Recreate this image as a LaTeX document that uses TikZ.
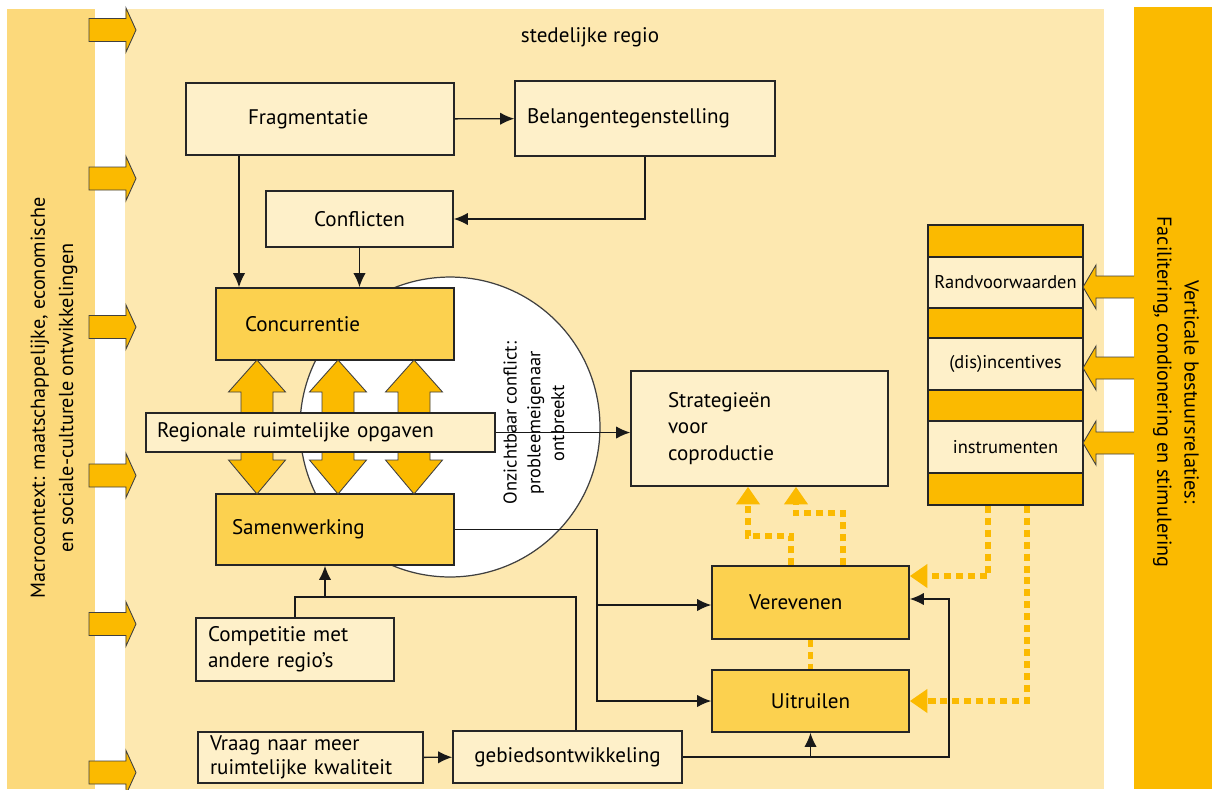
\documentclass[tikz,border=0pt]{standalone}
\usepackage{fontspec}
\setmainfont{PT Sans}
\usetikzlibrary{arrows.meta,calc,positioning}

\definecolor{bandleft}{HTML}{FCD97B}
\definecolor{region}{HTML}{FDE8B0}
\definecolor{boxlight}{HTML}{FEF0C9}
\definecolor{boxdark}{HTML}{FCD14F}
\definecolor{orange}{HTML}{FBBA00}

\tikzset{
  box/.style={draw=black!85, line width=0.9pt, inner ysep=0pt, font=\fontsize{12}{15}\selectfont},
  lightbox/.style={box, fill=boxlight},
  darkbox/.style={box, fill=boxdark},
  line/.style={draw=black!90, line width=0.8pt},
  dotline/.style={draw=orange, line width=3.2pt, dash pattern=on 4pt off 2.8pt},
  dotarrow/.style={dotline, -{Triangle[length=10pt,width=13pt]}},
  blockarrow/.style={fill=orange, draw=black!75, line width=0.5pt},
}

\begin{document}
\begin{tikzpicture}[x=0.02cm, y=-0.02cm, >={Latex[length=8pt,width=7pt]}]
\useasboundingbox (0,0) rectangle (1212,789);
\fill[white] (0,0) rectangle (1212,789);

% bands
\fill[bandleft] (7,9) rectangle (95,789);
\fill[region] (125,9) rectangle (1104,789);
\fill[orange] (1134,7) rectangle (1212,789);

\node (macro) at (54,398) [rotate=90, align=center, font=\fontsize{11.5}{16}\selectfont] {Macrocontext: maatschappelijke, economische\\en sociale-culturele ontwikkelingen};
\node (vert) at (1176,392) [rotate=-90, align=center, font=\fontsize{11.5}{15.5}\selectfont] {Verticale bestuursrelaties:\\Facilitering, condionering en stimulering};
\node (regio) at (590,37) [font=\fontsize{12}{15}\selectfont] {stedelijke regio};

% macro context arrows
\foreach \y in {30,178.5,327,475.5,624,772.5}
  \filldraw[blockarrow] (89,\y-11.5) -- (126,\y-11.5) -- (126,\y-22) -- (136,\y) -- (126,\y+22) -- (126,\y+11.5) -- (89,\y+11.5) -- cycle;

% invisible conflict
\node (blind) at (450,427) [circle, draw=black!75, line width=0.7pt, fill=white, minimum size=6cm, inner sep=0pt] {};
\node (blindtxt) at (534,423) [rotate=90, align=center, font=\fontsize{10.5}{13.5}\selectfont] {Onzichtbaar conflict:\\probleemeigenaar\\ontbreekt};

% boxes
\node (frag) at (320,119) [lightbox, minimum width=5.36cm, minimum height=1.44cm, inner xsep=1.24cm, text width=2.88cm, align=left] {Fragmentatie};
\node (belang) at (645,118.5) [lightbox, minimum width=5.2cm, minimum height=1.5cm, inner xsep=0.24cm, text width=4.72cm, align=left] {Belangentegenstelling};
\node (confl) at (359.5,219) [lightbox, minimum width=3.74cm, minimum height=1.12cm] {Conflicten};
\node (conc) at (335,324) [darkbox, minimum width=4.76cm, minimum height=1.44cm, inner xsep=0.58cm, text width=3.6cm, align=left] {Concurrentie};
\node (samen) at (335,529.5) [darkbox, minimum width=4.76cm, minimum height=1.42cm, inner xsep=0.32cm, text width=4.12cm, align=left] {Samenwerking};

% two-way arrows
\foreach \cx in {257,338,414}
  \filldraw[blockarrow] (\cx,360) -- (\cx+28.5,392) -- (\cx+16,392) -- (\cx+16,460) -- (\cx+28.5,460) -- (\cx,494) -- (\cx-28.5,460) -- (\cx-16,460) -- (\cx-16,392) -- (\cx-28.5,392) -- cycle;

\node (reg) at (320.5,432.5) [lightbox, minimum width=6.98cm, minimum height=0.78cm, inner xsep=0.22cm, text width=6.54cm, align=left] {Regionale ruimtelijke opgaven};
\node (strat) at (759.5,428.5) [lightbox, minimum width=5.14cm, minimum height=2.3cm, inner xsep=0.74cm, text width=3.66cm, align=left] {Strategieën\\voor\\coproductie};
\node (verev) at (810.5,602.5) [darkbox, minimum width=3.94cm, minimum height=1.46cm, inner xsep=0.74cm, text width=2.46cm, align=left] {Verevenen};
\node (uitr) at (810.5,701) [darkbox, minimum width=3.94cm, minimum height=1.24cm] {Uitruilen};
\node (comp) at (295,649.5) [lightbox, minimum width=3.96cm, minimum height=1.26cm, inner xsep=0.24cm, text width=3.48cm, align=left] {Competitie met\\andere regio’s};
\node (vraag) at (310.5,757.5) [lightbox, minimum width=4.5cm, minimum height=1.02cm, inner xsep=0.24cm, text width=4.02cm, align=left, font=\fontsize{12}{13.5}\selectfont] {Vraag naar meer\\ruimtelijke kwaliteit};
\node (gebied) at (567.5,757) [lightbox, minimum width=4.58cm, minimum height=1.04cm] {gebiedsontwikkeling};

% steering instruments
\node (stack) at (1005.5,365) [draw=black!85, line width=0.9pt, fill=orange, minimum width=3.1cm, minimum height=5.6cm, inner sep=0pt] {};
\node (rand) at (1005.5,282.5) [lightbox, minimum width=3.1cm, minimum height=1.02cm, inner xsep=1pt, font=\fontsize{10.5}{13}\selectfont] {Randvoorwaarden};
\node (incent) at (1005.5,364) [lightbox, minimum width=3.1cm, minimum height=1.04cm, inner xsep=1pt, font=\fontsize{10.5}{13}\selectfont] {(dis)incentives};
\node (instr) at (1005.5,447) [lightbox, minimum width=3.1cm, minimum height=1.04cm, inner xsep=1pt, font=\fontsize{10.5}{13}\selectfont] {instrumenten};

\foreach \y in {287,368,443} {
  \fill[orange] (1135,\y-11) -- (1096,\y-11) -- (1096,\y-22) -- (1083,\y) -- (1096,\y+22) -- (1096,\y+11) -- (1135,\y+11) -- cycle;
  \draw[black!75, line width=0.5pt] (1134,\y-11) -- (1096,\y-11) -- (1096,\y-22) -- (1083,\y) -- (1096,\y+22) -- (1096,\y+11) -- (1134,\y+11);
}

% connectors
\coordinate (join) at (325,597);
\coordinate (split) at (597,605);
\coordinate (loop) at (949,599);

\draw [line, ->] (frag) -- (belang);
\draw [line, ->] (belang.south) |- (confl.east);
\draw [line, ->] ([xshift=-1.62cm]frag.south) -- ([xshift=-1.62cm]frag.south |- conc.north);
\draw [line, ->] (confl) -- (confl |- conc.north);
\draw [line, ->] (reg.east) -- (reg.east -| strat.west);
\draw [line] (comp.north) |- (join);
\draw [line] ([xshift=0.17cm]gebied.north) |- (join);
\draw [line, ->] (join) -- (join |- samen.south);
\draw [line, ->] (samen.east) -| (split) -- (split -| verev.west);
\draw [line, ->] (split) |- (uitr.west);
\draw [line, ->] (vraag) -- (gebied);
\draw [line, ->] (gebied.east) -| (loop) -- (loop -| verev.east);
\draw [line, ->] (uitr.south |- gebied.east) -- (uitr.south);

% dotted relations
\draw [dotline] (verev.south) -- (uitr.north);
\draw [dotarrow] ([xshift=-0.39cm]verev.north) -- ++(0,-29) -| ([xshift=-0.23cm]strat.south);
\draw [dotarrow] ([xshift=0.65cm]verev.north) -- ++(0,-52) -| ([xshift=0.73cm]strat.south);
\draw [dotarrow] ([xshift=-0.35cm]stack.south) |- ([yshift=0.53cm]verev.east);
\draw [dotarrow] ([xshift=0.43cm]stack.south) |- (uitr.east);
\end{tikzpicture}
\end{document}
